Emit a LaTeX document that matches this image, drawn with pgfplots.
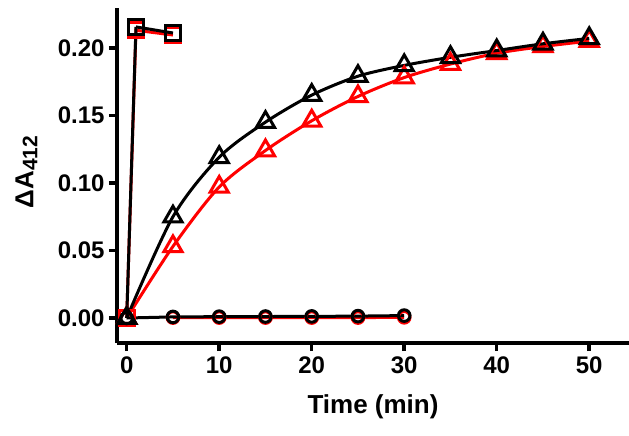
\documentclass[border=0pt]{standalone}
\usepackage{pgfplots}
\pgfplotsset{compat=1.18}
\usepackage{fontspec}
\setmainfont{Liberation Sans}
\begin{document}
\begin{tikzpicture}
\begin{axis}[
  scale only axis,
  width=512pt, height=335pt,
  xmin=-1.05, xmax=54.3,
  ymin=-0.0185, ymax=0.2295,
  axis x line*=bottom, axis y line*=left,
  axis line style={line width=4pt},
  xtick={0,10,20,30,40,50},
  ytick={0,0.05,0.1,0.15,0.2},
  tick align=outside,
  major tick length=8pt,
  tick style={line width=3.5pt, black},
  /pgf/number format/assume math mode=true,
  yticklabel style={/pgf/number format/fixed, /pgf/number format/fixed zerofill, /pgf/number format/precision=2, xshift=-1pt},
  ticklabel style={font=\bfseries\fontsize{24}{26}\selectfont},
  xticklabel style={yshift=-2pt},
  xlabel={\bfseries Time (min)},
  ylabel={\bfseries ΔA\raisebox{-0.3ex}{\fontsize{21}{24}\selectfont 412}},
  xlabel style={font=\bfseries\fontsize{26}{30}\selectfont, at={(axis description cs:0.5,0)}, anchor=center, yshift=-64pt},
  ylabel style={font=\bfseries\fontsize{26}{30}\selectfont, at={(axis description cs:-0.177,0.51)}, anchor=center},
  clip=false,
]
% red series first
\addplot[red, line width=3pt, mark=square, mark size=7.5pt, mark options={line width=3pt, solid}]
  coordinates {(0,0) (1,0.213) (5,0.2095)};
\addplot[red, line width=3pt, smooth, mark=triangle, mark size=10.5pt, mark options={line width=3pt, solid}]
  coordinates {(0,0) (5,0.053) (10,0.097) (15,0.124) (20,0.146) (25,0.164) (30,0.178) (35,0.188) (40,0.196) (45,0.201) (50,0.205)};
\addplot[red, line width=3pt, mark=o, mark size=5.8pt, mark options={line width=3pt, solid}]
  coordinates {(5,0.0003) (10,0.0003) (15,0.0003) (20,0.0003) (25,0.0003) (30,0.0005)};
% black series
\addplot[black, line width=3pt, mark=square, mark size=7.5pt, mark options={line width=3pt, solid}]
  coordinates {(1,0.2155) (5,0.211)};
\addplot[black, line width=3pt, forget plot] coordinates {(0,0) (1,0.2155)};
\addplot[black, line width=3pt, smooth, mark=triangle, mark size=10.5pt, mark options={line width=3pt, solid}]
  coordinates {(0,0) (5,0.075) (10,0.119) (15,0.145) (20,0.165) (25,0.179) (30,0.187) (35,0.193) (40,0.198) (45,0.203) (50,0.207)};
\addplot[black, line width=3pt, mark=o, mark size=5.8pt, mark options={line width=3pt, solid}]
  coordinates {(0,0) (5,0.0008) (10,0.0010) (15,0.0011) (20,0.0012) (25,0.0014) (30,0.0018)};
\end{axis}
\pgfresetboundingbox
\path[use as bounding box] (-117pt,-93pt) rectangle (512pt,343pt);
\end{tikzpicture}
\end{document}
